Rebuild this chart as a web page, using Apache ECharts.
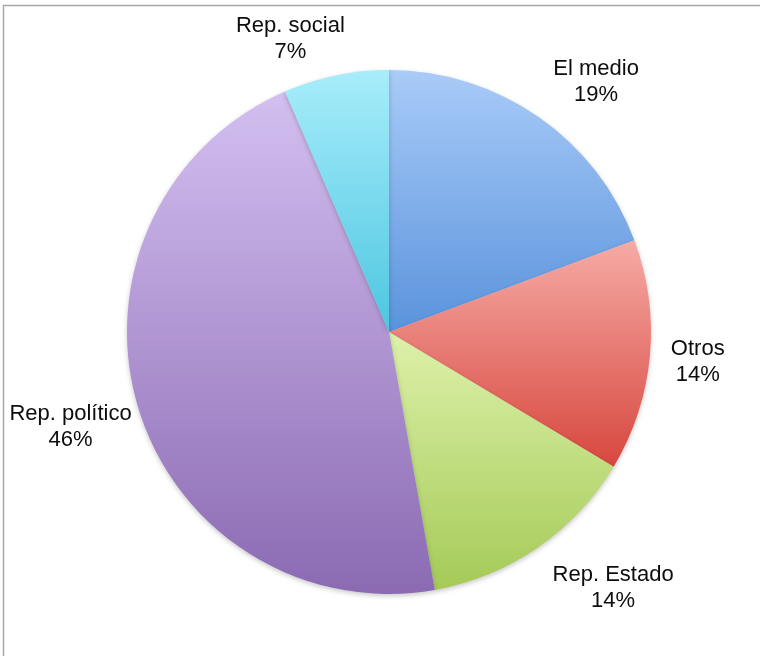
<!DOCTYPE html>
<html>
<head>
<meta charset="utf-8">
<script src="https://cdn.jsdelivr.net/npm/echarts@6/dist/echarts.min.js"></script>
<style>
html,body{margin:0;padding:0;background:#fff;}
#chart{width:760px;height:656px;}
</style>
</head>
<body>
<div id="chart"></div>
<script>
const categories = ['El medio', 'Otros', 'Rep. Estado', 'Rep. político', 'Rep. social'];
const values = [19.3, 14.3, 13.6, 46.3, 6.5];
const topColors = ['#a9cbf8', '#f6aba5', '#ddf1aa', '#d3bff0', '#a8edfb'];
const bottomColors = ['#5a93dc', '#d7473e', '#a5ca57', '#8b6ab3', '#4cc6e0'];

const CX = 389, CY = 332, R = 262, GAP = 14;
const total = values.reduce((a, b) => a + b, 0);
const midAngles = [];
let acc = 0;
values.forEach(v => { midAngles.push((acc + v / 2) / total * 2 * Math.PI); acc += v; });

const chart = echarts.init(document.getElementById('chart'), null, {renderer: 'canvas'});
const clamp = v => Math.max(-1, Math.min(1, v));

chart.setOption({
  animation: false,
  backgroundColor: '#ffffff',
  graphic: [{
    type: 'rect',
    shape: {x: 3.5, y: 5.5, width: 820, height: 700},
    style: {fill: 'none', stroke: '#a8a8a8', lineWidth: 1.5},
    silent: true
  }],
  series: [{
    type: 'pie',
    center: [CX, CY],
    radius: [0, R],
    startAngle: 90,
    clockwise: true,
    avoidLabelOverlap: false,
    data: categories.map((name, i) => ({
      name: name,
      value: values[i],
      itemStyle: {
        color: new echarts.graphic.LinearGradient(0, 0, 0, 1, [
          {offset: 0, color: topColors[i]},
          {offset: 1, color: bottomColors[i]}
        ])
      }
    })),
    itemStyle: {
      borderWidth: 0,
      shadowBlur: 5,
      shadowColor: 'rgba(0,0,0,0.22)',
      shadowOffsetY: 2
    },
    label: {
      show: true,
      position: 'outside',
      formatter: p => p.name + '\n' + Math.round(p.percent) + '%',
      fontFamily: 'Liberation Sans, Arial, sans-serif',
      fontSize: 22,
      lineHeight: 26,
      color: '#0d0d0d',
      align: 'center'
    },
    labelLine: {show: false},
    labelLayout: function (params) {
      const i = params.dataIndex;
      const a = midAngles[i];
      const s = Math.sin(a), c = Math.cos(a);
      const px = CX + s * (R + GAP);
      const py = CY - c * (R + GAP);
      const w = params.labelRect.width, h = params.labelRect.height;
      const kx = clamp(s * 4.5), ky = clamp(c * 1.7);
      return {
        x: px + kx * w / 2 + 7,
        y: py - ky * h / 2 + 3 - Math.max(0, s) * 3 * (1 - Math.abs(ky)),
        align: 'center',
        verticalAlign: 'middle'
      };
    },
    emphasis: {disabled: true}
  }]
});
</script>
</body>
</html>
